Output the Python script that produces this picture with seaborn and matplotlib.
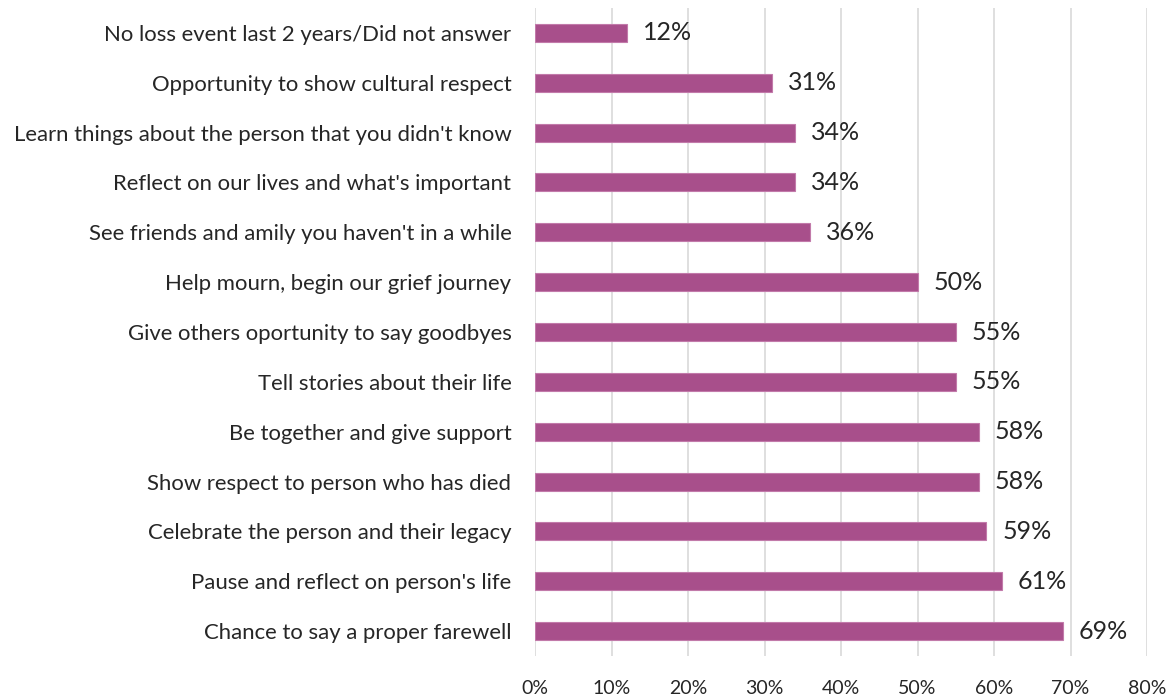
import matplotlib
matplotlib.use("Agg")
import matplotlib.pyplot as plt
import seaborn as sns
import pandas as pd
from matplotlib.ticker import PercentFormatter

reasons = [
    "No loss event last 2 years/Did not answer",
    "Opportunity to show cultural respect",
    "Learn things about the person that you didn't know",
    "Reflect on our lives and what's important",
    "See friends and amily you haven't in a while",
    "Help mourn, begin our grief journey",
    "Give others oportunity to say goodbyes",
    "Tell stories about their life",
    "Be together and give support",
    "Show respect to person who has died",
    "Celebrate the person and their legacy",
    "Pause and reflect on person's life",
    "Chance to say a proper farewell",
]
shares = [12, 31, 34, 34, 36, 50, 55, 55, 58, 58, 59, 61, 69]
x_ticks = [0, 10, 20, 30, 40, 50, 60, 70, 80]

df = pd.DataFrame({"reason": reasons, "share": shares})

sns.set_style("white")
plt.rcParams["font.family"] = ["Lato", "DejaVu Sans"]

fig = plt.figure(figsize=(11.74, 6.97), dpi=100)
ax = fig.add_axes([535 / 1174, 1 - 656 / 697, 612 / 1174, 648 / 697])

bar_color = "#A84F8B"
sns.barplot(data=df, x="share", y="reason", orient="h", color=bar_color,
            saturation=1, width=0.36, edgecolor="#C27AAA", linewidth=0.8,
            ax=ax, zorder=3)

ax.set_xlim(0, 80)
ax.set_ylim(len(reasons) - 0.5, -0.5)
ax.set_xticks(x_ticks)
ax.xaxis.set_major_formatter(PercentFormatter(decimals=0))
ax.grid(axis="x", color="#D9D9D9", linewidth=1.2, zorder=0)
ax.grid(axis="y", visible=False)
for s in ax.spines.values():
    s.set_visible(False)

ax.set_xlabel("")
ax.set_ylabel("")
ax.tick_params(axis="y", length=0, pad=17, labelsize=15.9, labelcolor="#262626")
ax.tick_params(axis="x", length=0, pad=17, labelsize=14, labelcolor="#262626")

ax.bar_label(ax.containers[0], labels=[f"{v}%" for v in shares], padding=11.5,
             fontsize=18, color="#262626")

fig.savefig("out.png", dpi=100)
